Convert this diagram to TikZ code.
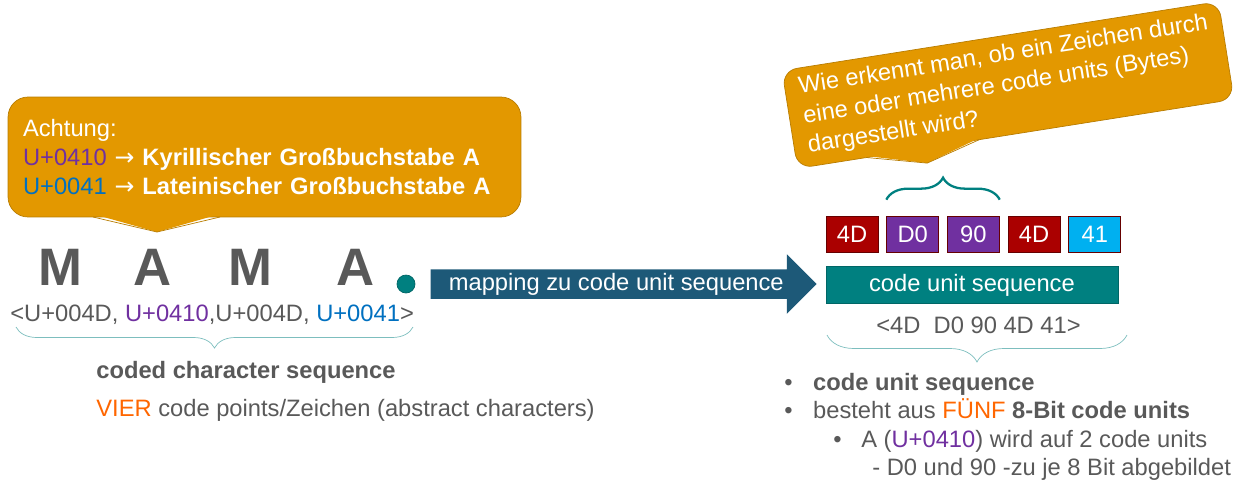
\documentclass[tikz,border=0pt]{standalone}
\usepackage{fontspec}
\setmainfont{Liberation Sans}
\newfontfamily\arrowfont{DejaVu Sans}
\usepackage{tikz}
\usetikzlibrary{positioning,shapes.arrows,decorations.pathreplacing}

\definecolor{hintorange}{RGB}{227,152,0}
\definecolor{hintedge}{RGB}{184,124,0}
\definecolor{txtgrey}{RGB}{89,89,89}
\definecolor{cppurple}{RGB}{112,48,160}
\definecolor{cpblue}{RGB}{0,112,192}
\definecolor{signal}{RGB}{255,102,0}
\definecolor{unitteal}{RGB}{0,128,128}
\definecolor{mapblue}{RGB}{29,89,120}
\definecolor{unitred}{RGB}{170,0,0}
\definecolor{unitcyan}{RGB}{0,176,240}
\definecolor{braceteal}{RGB}{125,190,190}

\begin{document}
\begin{tikzpicture}[x=0.02cm,y=-0.02cm,
    every node/.style={font=\fontsize{13.5}{16.7}\selectfont,text=txtgrey},
    hint/.style={draw=hintedge,fill=hintorange,rounded corners=0.4cm,text=white,align=left},
    letter/.style={font=\fontsize{30}{30}\selectfont\bfseries,anchor=base,inner sep=0pt},
    textline/.style={anchor=base west,inner sep=0pt},
    unit/.style={draw=unitred!60!black,minimum width=1.04cm,minimum height=0.72cm,inner sep=0pt,text=white},
    maparrow/.style={single arrow,fill=mapblue,text=white,single arrow head extend=0.3cm,minimum height=7.72cm,text height=10pt,text depth=3pt,inner ysep=1.7pt},
    softbrace/.style={draw=braceteal,decorate,decoration={brace,mirror,amplitude=#1}},
    unitbrace/.style={draw=unitteal,line width=1.3pt,decorate,decoration={brace,amplitude=0.44cm}}]
  \useasboundingbox (0,0) rectangle (1249,488);

  % Achtung callout
  \node[hint,text width=9.66cm,inner xsep=0.3cm,minimum height=2.4cm] (achtung) at (264.5,157)
    {Achtung:\\
     {\color{cppurple}U+0410} {\arrowfont→} \textbf{Kyrillischer Großbuchstabe A}\\
     {\color{cpblue}U+0041} {\arrowfont→} \textbf{Lateinischer Großbuchstabe A}};
  \path[fill=hintorange] (93,214) -- (157,232) -- (220,214) -- cycle;
  \draw[hintedge] (93,217) -- (157,232) -- (220,217);

  % characters
  \node[letter] (m1) at (60,285) {M};
  \node[letter] (a1) at (153,285) {A};
  \node[letter] (m2) at (250,285) {M};
  \node[letter] (a2) at (356,285) {A};
  \node[circle,fill=unitteal,draw=unitteal!80!black,minimum size=0.36cm,inner sep=0pt] (dot) at (406,284) {};

  \node[textline] (cps) at (10,321.5)
    {<U+004D, {\color{cppurple}U+0410},U+004D, {\color{cpblue}U+0041}>};
  \draw[softbrace=0.42cm] (16,327) -- (413,327);
  \node[textline] (ccs) at (96,378.5) {\bfseries coded character sequence};
  \node[textline] (vier) at (96,416.5) {{\color{signal}VIER} code points/Zeichen (abstract characters)};

  % mapping
  \node[maparrow,right=0.3cm of dot] (map) {mapping zu code unit sequence};

  % code units
  \node[unit,fill=unitred] (u1) at (852,234) {4D};
  \node[unit,fill=cppurple,right=0.16cm of u1] (u2) {D0};
  \node[unit,fill=cppurple,right=0.16cm of u2] (u3) {90};
  \node[unit,fill=unitred,right=0.16cm of u3] (u4) {4D};
  \node[unit,fill=unitcyan,right=0.16cm of u4] (u5) {41};
  \draw[unitbrace] ([yshift=0.32cm]u2.north west) -- ([yshift=0.32cm]u3.north east);

  \node[anchor=north west,fill=unitteal,draw=unitteal!80!black,text=white,minimum width=5.84cm,minimum height=0.74cm,inner sep=0pt]
    (seq) at ([yshift=-0.28cm]u1.south west) {code unit sequence};
  \node[textline] (bytes) at (876,333.5) {<4D\ \ D0 90 4D 41>};
  \draw[softbrace=0.54cm] (827,335) -- (1127,335);

  \node[textline] (b1) at (784,390) {\makebox[16.4pt][l]{•}\textbf{code unit sequence}};
  \node[textline] (b2) at (784,418) {\makebox[16.4pt][l]{•}besteht aus {\color{signal}FÜNF} \textbf{8-Bit code units}};
  \node[textline] (b3) at (833,447) {\makebox[15.9pt][l]{•}A ({\color{cppurple}U+0410}) wird auf 2 code units};
  \node[textline] (b4) at (872,475) {- D0 und 90 -zu je 8 Bit abgebildet};

  % question callout
  \begin{scope}[shift={(1008,85)},rotate=9]
    \node[hint,rotate=9,rounded corners=0.3cm,minimum width=8.84cm,minimum height=1.98cm,inner sep=0pt,font=\fontsize{13.5}{17}\selectfont]
      (frage) at (0,0) {Wie erkennt man, ob ein Zeichen durch\\eine oder mehrere code units (Bytes)\\dargestellt wird?};
    \path[fill=hintorange] (-151,48) -- (-92,64.5) -- (-37,48) -- cycle;
    \draw[hintedge] (-151,49.5) -- (-92,64.5) -- (-37,49.5);
  \end{scope}
\end{tikzpicture}
\end{document}
